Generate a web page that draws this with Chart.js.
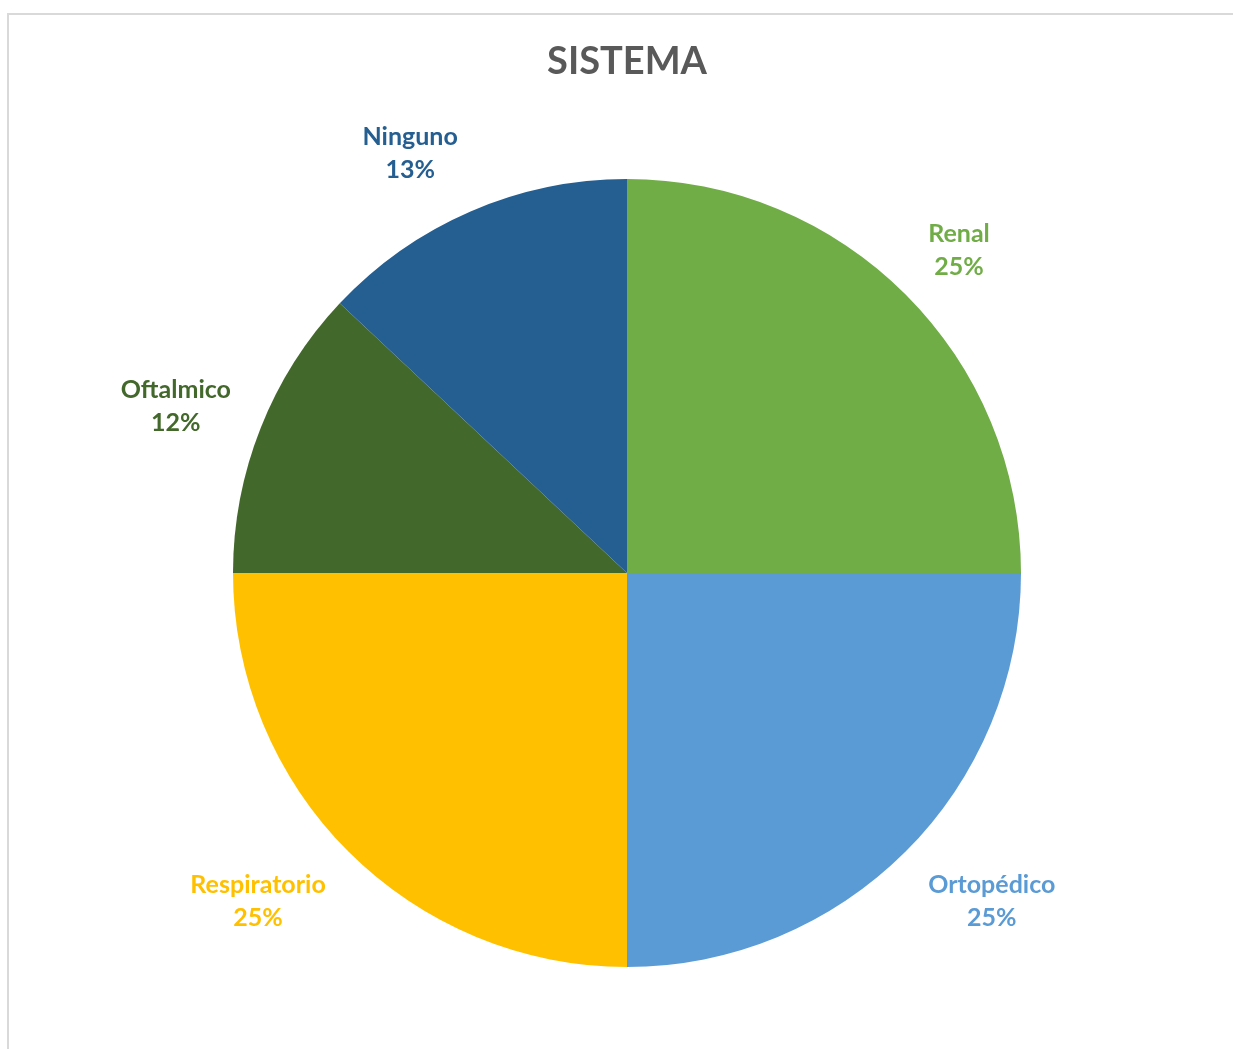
<!DOCTYPE html>
<html>
<head>
<meta charset="utf-8">
<script src="https://cdn.jsdelivr.net/npm/chart.js@4"></script>
<style>
  html, body { margin: 0; padding: 0; background: #fff; overflow: hidden; }
  #wrap { position: relative; width: 1233px; height: 1049px; }
  #frame { position: absolute; left: 7px; top: 13px; width: 1300px; height: 1100px;
           border-top: 2px solid #d9d9d9; border-left: 2px solid #d9d9d9; box-sizing: border-box; }
  canvas { position: absolute; left: 0; top: 0; }
</style>
</head>
<body>
<div id="wrap">
  <div id="frame"></div>
  <canvas id="c" width="1233" height="1049"></canvas>
</div>
<script>
const categories = ['Renal', 'Ortopédico', 'Respiratorio', 'Oftalmico', 'Ninguno'];
const values = [25, 25, 25, 12, 13];
const colors = ['#70AD47', '#5B9BD5', '#FFC000', '#43682B', '#255E91'];
const chartTitle = 'SISTEMA';

const FONT = 'Lato, "Open Sans", sans-serif';

// Title and category/percent labels placed just outside each slice
const outsideLabels = {
  id: 'outsideLabels',
  afterDraw(chart) {
    const ctx = chart.ctx;
    ctx.save();
    ctx.textAlign = 'center';
    ctx.textBaseline = 'middle';
    ctx.fillStyle = '#595959';
    ctx.font = 'bold 38px ' + FONT;
    ctx.fillText(chartTitle, 627, 62);

    const meta = chart.getDatasetMeta(0);
    const total = values.reduce((a, b) => a + b, 0);
    ctx.font = 'bold 25px ' + FONT;
    meta.data.forEach((arc, i) => {
      const p = arc.getProps(['x', 'y', 'startAngle', 'endAngle', 'outerRadius'], true);
      const mid = (p.startAngle + p.endAngle) / 2;
      const dx = Math.cos(mid), dy = Math.sin(mid);
      const pct = Math.round(values[i] / total * 100) + '%';
      const w = Math.max(ctx.measureText(categories[i]).width, ctx.measureText(pct).width);
      const r = p.outerRadius + 32;
      const cx = p.x + dx * r + Math.sign(dx) * w / 2;
      const cy = p.y + dy * r + dy * 34 + 3;
      ctx.fillStyle = colors[i];
      ctx.fillText(categories[i], cx, cy - 16.5);
      ctx.fillText(pct, cx, cy + 16.5);
    });
    ctx.restore();
  }
};

new Chart(document.getElementById('c'), {
  type: 'pie',
  data: {
    labels: categories,
    datasets: [{
      data: values,
      backgroundColor: colors,
      borderWidth: 0
    }]
  },
  options: {
    responsive: false,
    animation: false,
    layout: { padding: { left: 233, right: 212, top: 179, bottom: 82 } },
    plugins: {
      legend: { display: false },
      title: { display: false },
      tooltip: { enabled: false }
    }
  },
  plugins: [outsideLabels]
});
</script>
</body>
</html>
